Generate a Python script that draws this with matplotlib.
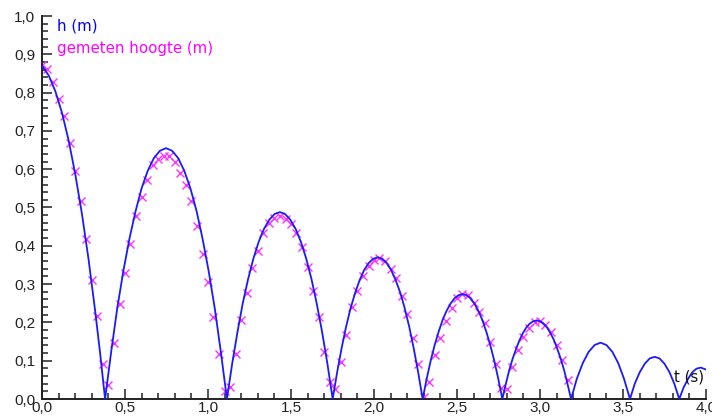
import matplotlib.pyplot as plt
from matplotlib.ticker import MultipleLocator, FuncFormatter

# model: h (m) against t (s)
t_model = [0.000, 0.040, 0.080, 0.120, 0.160, 0.200, 0.240, 0.280, 0.320, 0.350, 0.365, 0.380,
           0.417, 0.453, 0.490, 0.527, 0.564, 0.600, 0.637, 0.674, 0.710, 0.747,
           0.784, 0.820, 0.857, 0.894, 0.931, 0.967, 1.004, 1.041, 1.077, 1.114,
           1.146, 1.178, 1.209, 1.241, 1.273, 1.305, 1.337, 1.369, 1.401, 1.433,
           1.464, 1.496, 1.528, 1.560, 1.592, 1.624, 1.655, 1.687, 1.719, 1.751,
           1.778, 1.805, 1.832, 1.859, 1.887, 1.914, 1.941, 1.968, 1.995, 2.022,
           2.049, 2.076, 2.103, 2.130, 2.158, 2.185, 2.212, 2.239, 2.266, 2.293,
           2.317, 2.341, 2.365, 2.389, 2.413, 2.437, 2.461, 2.485, 2.509, 2.533,
           2.557, 2.581, 2.605, 2.629, 2.653, 2.677, 2.701, 2.725, 2.749, 2.773,
           2.794, 2.814, 2.835, 2.856, 2.877, 2.897, 2.918, 2.939, 2.959, 2.980,
           3.001, 3.021, 3.042, 3.063, 3.084, 3.104, 3.125, 3.146, 3.166, 3.187,
           3.222, 3.258, 3.293, 3.329, 3.365, 3.400, 3.436, 3.471, 3.506, 3.542,
           3.571, 3.601, 3.631, 3.661, 3.691, 3.720, 3.750, 3.780, 3.809, 3.839,
           3.865, 3.891, 3.916, 3.942, 3.968, 4.000]
h_model = [0.870, 0.845, 0.804, 0.748, 0.676, 0.588, 0.485, 0.366, 0.231, 0.120, 0.061, 0.000,
           0.124, 0.236, 0.334, 0.419, 0.491, 0.550, 0.596, 0.629, 0.648, 0.655,
           0.648, 0.629, 0.596, 0.550, 0.491, 0.419, 0.334, 0.236, 0.124, 0.000,
           0.093, 0.176, 0.249, 0.312, 0.366, 0.410, 0.444, 0.468, 0.483, 0.488,
           0.483, 0.468, 0.444, 0.410, 0.366, 0.312, 0.249, 0.176, 0.093, 0.000,
           0.070, 0.133, 0.189, 0.237, 0.278, 0.311, 0.337, 0.355, 0.366, 0.370,
           0.366, 0.355, 0.337, 0.311, 0.278, 0.237, 0.189, 0.133, 0.070, 0.000,
           0.052, 0.099, 0.140, 0.175, 0.206, 0.230, 0.249, 0.263, 0.271, 0.274,
           0.271, 0.263, 0.249, 0.230, 0.206, 0.175, 0.140, 0.099, 0.052, 0.000,
           0.039, 0.074, 0.105, 0.131, 0.154, 0.172, 0.187, 0.197, 0.203, 0.205,
           0.203, 0.197, 0.187, 0.172, 0.154, 0.131, 0.105, 0.074, 0.039, 0.000,
           0.053, 0.094, 0.123, 0.141, 0.147, 0.141, 0.123, 0.094, 0.053, 0.000,
           0.040, 0.070, 0.092, 0.106, 0.110, 0.106, 0.092, 0.070, 0.040, 0.000,
           0.030, 0.052, 0.069, 0.079, 0.082, 0.077]

# gemeten hoogte: one point per video frame
t_meas = [0.000, 0.033, 0.067, 0.100, 0.133, 0.167, 0.200, 0.233, 0.267, 0.300,
          0.333, 0.367, 0.400, 0.433, 0.467, 0.500, 0.533, 0.567, 0.600, 0.633,
          0.667, 0.700, 0.733, 0.767, 0.800, 0.833, 0.867, 0.900, 0.933, 0.967,
          1.000, 1.033, 1.067, 1.100, 1.133, 1.167, 1.200, 1.233, 1.267, 1.300,
          1.333, 1.367, 1.400, 1.433, 1.467, 1.500, 1.533, 1.567, 1.600, 1.633,
          1.667, 1.700, 1.733, 1.767, 1.800, 1.833, 1.867, 1.900, 1.933, 1.967,
          2.000, 2.033, 2.067, 2.100, 2.133, 2.167, 2.200, 2.233, 2.267, 2.300,
          2.333, 2.367, 2.400, 2.433, 2.467, 2.500, 2.533, 2.567, 2.600, 2.633,
          2.667, 2.700, 2.733, 2.767, 2.800, 2.833, 2.867, 2.900, 2.933, 2.967,
          3.000, 3.033, 3.067, 3.100, 3.133, 3.167]
h_meas = [0.872, 0.861, 0.828, 0.782, 0.739, 0.668, 0.595, 0.517, 0.418, 0.311,
          0.218, 0.091, 0.037, 0.145, 0.247, 0.328, 0.405, 0.478, 0.528, 0.572,
          0.612, 0.627, 0.635, 0.635, 0.618, 0.589, 0.559, 0.516, 0.452, 0.379,
          0.305, 0.213, 0.117, 0.022, 0.032, 0.117, 0.206, 0.278, 0.343, 0.386,
          0.433, 0.459, 0.472, 0.477, 0.471, 0.457, 0.434, 0.398, 0.345, 0.283,
          0.213, 0.124, 0.045, 0.025, 0.097, 0.168, 0.239, 0.282, 0.322, 0.348,
          0.363, 0.367, 0.360, 0.339, 0.315, 0.270, 0.221, 0.158, 0.091, 0.006,
          0.045, 0.115, 0.160, 0.204, 0.237, 0.263, 0.274, 0.272, 0.250, 0.228,
          0.198, 0.149, 0.092, 0.030, 0.025, 0.084, 0.128, 0.163, 0.185, 0.200,
          0.204, 0.194, 0.176, 0.141, 0.102, 0.050]

fig = plt.figure(figsize=(7.12, 4.19), dpi=100)
ax = fig.add_axes([42 / 712, 20 / 419, 664 / 712, 383 / 419])

ax.plot(t_meas, h_meas, linestyle='none', marker='x', markersize=5.5,
        markeredgewidth=1.0, color='#ff33ff', zorder=2)
ax.plot(t_model, h_model, color='#1a1aff', linewidth=1.3, zorder=3)

ax.set_xlim(0, 4.0)
ax.set_ylim(0, 1.0)

for side in ['top', 'right']:
    ax.spines[side].set_visible(False)
for side in ['left', 'bottom']:
    ax.spines[side].set_linewidth(1.4)
    ax.spines[side].set_color('#222222')

comma = FuncFormatter(lambda v, pos: f"{v:.1f}".replace('.', ','))
ax.xaxis.set_major_locator(MultipleLocator(0.5))
ax.xaxis.set_minor_locator(MultipleLocator(0.1))
ax.yaxis.set_major_locator(MultipleLocator(0.1))
ax.yaxis.set_minor_locator(MultipleLocator(0.02))
ax.xaxis.set_major_formatter(comma)
ax.yaxis.set_major_formatter(comma)

ax.tick_params(which='both', direction='in', top=False, right=False,
               color='#222222', width=1.1, labelcolor='#222222')
ax.tick_params(which='major', length=7)
ax.tick_params(which='minor', length=4)
ax.tick_params(axis='x', which='major', pad=1.5)
ax.tick_params(axis='y', which='major', pad=5)
for lab in ax.get_xticklabels() + ax.get_yticklabels():
    lab.set_family('Liberation Sans')
    lab.set_fontsize(11)

ax.text(0.09, 0.963, 'h (m)', color='#0000ff', fontsize=10.8, family='DejaVu Sans')
ax.text(0.09, 0.903, 'gemeten hoogte (m)', color='#ff00ff', fontsize=10.8,
        family='DejaVu Sans')
ax.text(3.807, 0.045, 't (s)', color='#111111', fontsize=10.8, family='DejaVu Sans')

fig.savefig('out.png', dpi=100)
